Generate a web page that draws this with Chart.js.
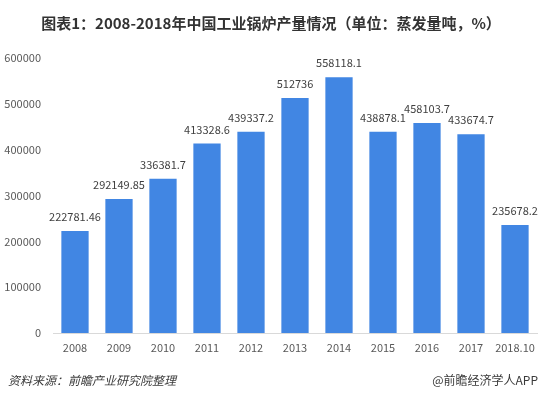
<!DOCTYPE html>
<html><head><meta charset="utf-8">
<script src="https://cdn.jsdelivr.net/npm/chart.js@4"></script>
<style>html,body{margin:0;padding:0;background:#fff}#wrap{width:548px;height:398px;position:relative}</style>
</head><body><div id="wrap"><canvas id="c" width="548" height="398"></canvas></div>
<script>
const categories = ['2008','2009','2010','2011','2012','2013','2014','2015','2016','2017','2018.10'];
const production = [222781.46, 292149.85, 336381.7, 413328.6, 439337.2, 512736, 558118.1, 438878.1, 458103.7, 433674.7, 235678.2];
const valueLabels = ['222781.46','292149.85','336381.7','413328.6','439337.2','512736','558118.1','438878.1','458103.7','433674.7','235678.2'];
const titleText = '图表1：2008-2018年中国工业锅炉产量情况（单位：蒸发量吨，%）';
const sourceText = '资料来源：前瞻产业研究院整理';
const brandText = '@前瞻经济学人APP';
const FONT = '"Noto Sans CJK SC","Noto Sans",sans-serif';

const decor = {
  id: 'decor',
  afterDatasetsDraw(chart) {
    const ctx = chart.ctx;
    const meta = chart.getDatasetMeta(0);
    ctx.save();
    ctx.font = '11px ' + FONT;
    ctx.fillStyle = '#404040';
    ctx.textAlign = 'center';
    ctx.textBaseline = 'middle';
    meta.data.forEach((bar, i) => {
      ctx.fillText(valueLabels[i], bar.x, bar.y - 14);
    });
    ctx.restore();
  },
  afterDraw(chart) {
    const ctx = chart.ctx;
    ctx.save();
    ctx.fillStyle = '#333333';
    ctx.font = 'bold 15px ' + FONT;
    ctx.textAlign = 'center';
    ctx.textBaseline = 'middle';
    ctx.fillText(titleText, 271, 23);
    ctx.font = 'italic 12px ' + FONT;
    ctx.textAlign = 'left';
    ctx.fillStyle = '#3a3a3a';
    ctx.fillText(sourceText, 8, 380);
    ctx.textAlign = 'right';
    ctx.font = '12px ' + FONT;
    ctx.fillText(brandText, 538, 380);
    ctx.restore();
  }
};

new Chart(document.getElementById('c'), {
  type: 'bar',
  data: {
    labels: categories,
    datasets: [{
      data: production,
      backgroundColor: '#4186e3',
      categoryPercentage: 0.62,
      barPercentage: 1.0
    }]
  },
  options: {
    responsive: false,
    animation: false,
    devicePixelRatio: 1,
    layout: { padding: { left: 0, right: 11, top: 58, bottom: 35 } },
    plugins: { legend: { display: false }, title: { display: false }, tooltip: { enabled: false } },
    scales: {
      x: {
        afterFit(scale) { scale.height = 30; },
        grid: { display: false, drawTicks: false },
        border: { display: true, color: '#d9d9d9', width: 1 },
        ticks: { color: '#595959', font: { size: 11, family: FONT }, padding: 8, maxRotation: 0, autoSkip: false }
      },
      y: {
        min: 0, max: 600000,
        afterFit(scale) { scale.width = 53; },
        grid: { display: false, drawTicks: false },
        border: { display: false },
        ticks: { stepSize: 100000, color: '#595959', font: { size: 11, family: FONT }, padding: 12,
                 callback: v => String(v) }
      }
    }
  },
  plugins: [decor]
});
</script>
</body></html>
